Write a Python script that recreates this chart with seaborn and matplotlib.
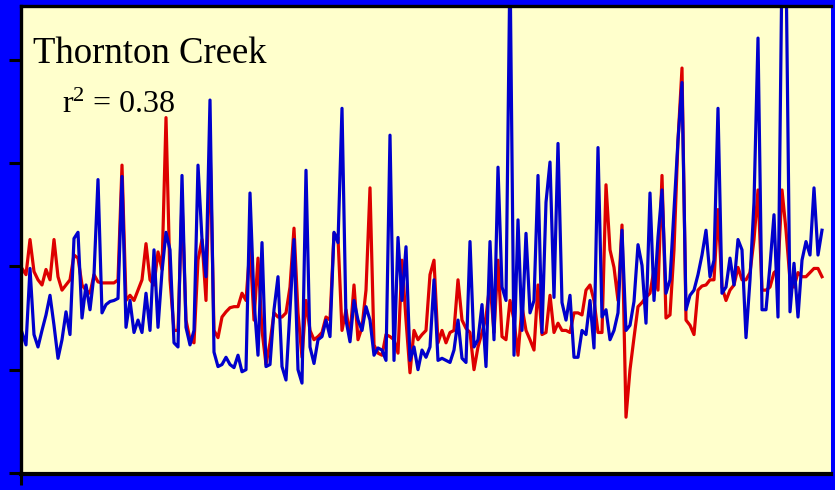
import numpy as np
import pandas as pd
import matplotlib
matplotlib.use("Agg")
import matplotlib.pyplot as plt
import seaborn as sns

# Observed (red) and simulated (blue) series, one value per sample
observed = [
    1.98, 1.92, 2.26, 1.95, 1.87, 1.82, 1.97, 1.87, 2.26, 1.90,
    1.77, 1.82, 1.87, 2.11, 2.08, 1.82, 1.77, 1.74, 1.92, 1.85,
    1.84, 1.84, 1.84, 1.84, 1.87, 2.98, 1.67, 1.72, 1.67, 1.77,
    1.87, 2.22, 1.87, 1.82, 2.14, 1.97, 3.44, 1.87, 1.38, 1.38,
    2.64, 1.48, 1.29, 1.26, 2.06, 2.26, 1.67, 3.19, 1.38, 1.31,
    1.51, 1.56, 1.60, 1.61, 1.61, 1.74, 1.67, 2.19, 1.48, 2.08,
    1.38, 1.05, 1.26, 1.55, 1.51, 1.51, 1.55, 1.80, 2.37, 1.55,
    1.12, 1.67, 1.38, 1.29, 1.32, 1.36, 1.51, 1.48, 2.32, 2.28,
    1.38, 1.58, 1.32, 1.82, 1.29, 1.41, 1.77, 2.76, 1.24, 1.16,
    1.14, 1.34, 1.32, 1.29, 1.16, 2.06, 1.48, 0.97, 1.38, 1.29,
    1.34, 1.38, 1.92, 2.06, 1.26, 1.38, 1.26, 1.36, 1.38, 1.87,
    1.48, 1.40, 1.36, 1.00, 1.22, 1.36, 1.51, 1.84, 1.36, 2.06,
    1.32, 1.29, 1.67, 1.48, 1.14, 1.61, 1.38, 1.29, 1.19, 1.82,
    1.34, 1.36, 1.72, 1.36, 1.45, 1.38, 1.38, 1.36, 1.55, 1.55,
    1.53, 1.77, 1.82, 1.67, 1.36, 1.36, 2.79, 2.16, 1.99, 1.67,
    2.40, 0.54, 1.00, 1.31, 1.61, 1.65, 1.70, 1.74, 1.97, 1.77,
    2.88, 1.50, 1.53, 2.16, 3.22, 3.92, 1.48, 1.43, 1.34, 1.77,
    1.81, 1.82, 1.87, 1.87, 2.55, 1.80, 1.67, 1.77, 1.82, 1.99,
    1.87, 1.87, 1.94, 2.26, 2.74, 1.77, 1.77, 1.80, 1.94, 1.97,
    2.74, 2.35, 1.87, 1.80, 1.94, 1.90, 1.90, 1.94, 1.98, 1.98,
    1.90,
]

simulated = [
    1.36, 1.24, 1.98, 1.34, 1.22, 1.38, 1.53, 1.72, 1.43, 1.11,
    1.29, 1.56, 1.34, 2.27, 2.33, 1.50, 1.82, 1.58, 1.92, 2.84,
    1.55, 1.63, 1.66, 1.67, 1.69, 2.87, 1.41, 1.67, 1.36, 1.48,
    1.36, 1.74, 1.38, 2.16, 1.41, 1.95, 2.33, 2.16, 1.26, 1.22,
    2.88, 1.41, 1.24, 1.38, 2.98, 2.26, 1.90, 3.61, 1.17, 1.03,
    1.05, 1.12, 1.05, 1.02, 1.14, 0.98, 1.00, 2.71, 1.67, 1.14,
    2.23, 1.03, 1.05, 1.58, 1.90, 1.03, 0.90, 1.58, 2.26, 1.00,
    0.87, 2.93, 1.22, 1.06, 1.29, 1.32, 1.48, 1.32, 2.33, 2.23,
    3.53, 1.48, 1.27, 1.67, 1.48, 1.38, 1.61, 1.48, 1.14, 1.21,
    1.19, 1.09, 3.27, 1.09, 2.28, 1.67, 2.19, 1.09, 1.22, 1.00,
    1.19, 1.12, 1.22, 1.87, 1.09, 1.11, 1.09, 1.07, 1.19, 1.48,
    1.11, 1.07, 2.24, 1.22, 1.29, 1.63, 1.03, 2.24, 1.29, 2.96,
    1.80, 1.67, 4.97, 1.14, 2.45, 1.38, 2.32, 1.55, 1.67, 2.88,
    1.36, 2.62, 3.01, 1.70, 3.19, 1.65, 1.48, 1.72, 1.12, 1.12,
    1.38, 1.34, 1.67, 1.21, 3.15, 1.51, 1.58, 1.29, 1.38, 1.55,
    2.35, 1.38, 1.43, 1.66, 2.21, 2.01, 1.45, 2.71, 1.67, 2.28,
    2.74, 1.74, 1.87, 2.55, 3.22, 3.78, 1.58, 1.72, 1.77, 1.92,
    2.11, 2.35, 1.90, 2.06, 3.53, 1.74, 1.80, 2.08, 1.82, 2.26,
    2.16, 1.31, 1.87, 2.62, 4.21, 1.58, 1.58, 2.01, 2.50, 1.51,
    4.97, 4.97, 1.56, 2.03, 1.51, 2.06, 2.24, 2.11, 2.76, 2.11,
    2.35,
]

y_ticks = [0, 1, 2, 3, 4]
title_text = "Thornton Creek"
r2_text = r"r$^{2}$ = 0.38"

df = pd.DataFrame({
    "sample": np.arange(len(observed)),
    "observed": observed,
    "simulated": simulated,
})

plt.rcParams["mathtext.fontset"] = "custom"
plt.rcParams["mathtext.rm"] = "Liberation Serif"
plt.rcParams["mathtext.it"] = "Liberation Serif:italic"
plt.rcParams["mathtext.default"] = "regular"

W, H = 835, 490
fig = plt.figure(figsize=(W / 100, H / 100), dpi=100, facecolor="#0000FF")
ax = fig.add_axes([20.5 / W, 16 / H, (831 - 20.5) / W, (474 - 6.5) / H])
ax.set_facecolor("#FFFFCC")

sns.lineplot(data=df, x="sample", y="observed", color="#DD0000",
             linewidth=2.3, ax=ax)
sns.lineplot(data=df, x="sample", y="simulated", color="#0000CC",
             linewidth=2.3, ax=ax)

x0 = -0.375
ax.set_xlim(x0, 202.25)
ax.set_ylim(-0.01, 4.516)
ax.set_xlabel("")
ax.set_ylabel("")

ax.set_yticks(y_ticks)
ax.set_yticklabels([])
ax.set_xticks([x0])
ax.set_xticklabels([])
ax.tick_params(axis="y", direction="out", length=8.6, width=2.2, color="black")
ax.tick_params(axis="x", direction="out", length=8, width=2.2, color="black")

for side in ("left", "top"):
    ax.spines[side].set_color("black")
    ax.spines[side].set_linewidth(2.4)
ax.spines["bottom"].set_color("black")
ax.spines["bottom"].set_linewidth(3.0)
ax.spines["right"].set_visible(False)

fig.text(33 / W, 1 - 63 / H, title_text, family="Liberation Serif",
         fontsize=26.5, color="black", ha="left", va="baseline")
fig.text(62 / W, 1 - 113 / H, r2_text, family="Liberation Serif",
         fontsize=23, color="black", ha="left", va="baseline")

fig.savefig("out.png", dpi=100, facecolor=fig.get_facecolor())
